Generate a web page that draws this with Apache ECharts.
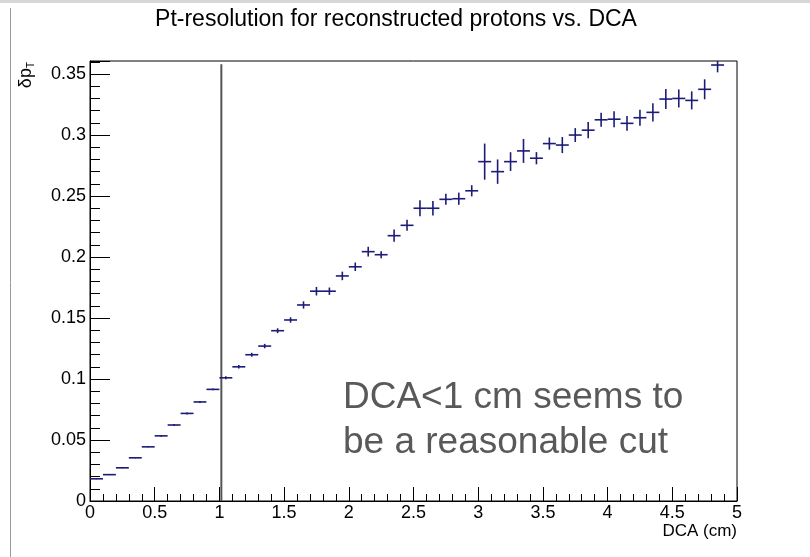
<!DOCTYPE html>
<html>
<head>
<meta charset="utf-8">
<script src="https://cdn.jsdelivr.net/npm/echarts@6/dist/echarts.min.js"></script>
<style>
  html, body { margin: 0; padding: 0; background: #fff; }
  #chart { width: 810px; height: 557px; }
</style>
</head>
<body>
<div id="chart"></div>
<script>
// Bin centres of the DCA histogram (cm), bin width 0.1 cm
const binCenters = [
  0.05, 0.15, 0.25, 0.35, 0.45, 0.55, 0.65, 0.75, 0.85, 0.95,
  1.05, 1.15, 1.25, 1.35, 1.45, 1.55, 1.65, 1.75, 1.85, 1.95,
  2.05, 2.15, 2.25, 2.35, 2.45, 2.55, 2.65, 2.75, 2.85, 2.95,
  3.05, 3.15, 3.25, 3.35, 3.45, 3.55, 3.65, 3.75, 3.85, 3.95,
  4.05, 4.15, 4.25, 4.35, 4.45, 4.55, 4.65, 4.75, 4.85
];
const binWidth = 0.1;

// Pt resolution per bin
const resolution = [
  0.0182, 0.0216, 0.0272, 0.0354, 0.0444, 0.0534, 0.0623, 0.0718, 0.0812, 0.0915,
  0.1010, 0.1100, 0.1199, 0.1270, 0.1396, 0.1484, 0.1607, 0.1720, 0.1720, 0.1845,
  0.1920, 0.2044, 0.2019, 0.2175, 0.2260, 0.2400, 0.2400, 0.2473, 0.2478, 0.2543,
  0.2782, 0.2700, 0.2782, 0.2870, 0.2810, 0.2930, 0.2918, 0.3000, 0.3040, 0.3125,
  0.3130, 0.3096, 0.3142, 0.3186, 0.3295, 0.3300, 0.3284, 0.3375, 0.3574
];

// Statistical error per bin
const resolutionErr = [
  0.0004, 0.0004, 0.0004, 0.0004, 0.0004, 0.0008, 0.0008, 0.0008, 0.0008, 0.0008,
  0.0012, 0.0014, 0.0016, 0.0018, 0.0020, 0.0022, 0.0030, 0.0035, 0.0030, 0.0035,
  0.0035, 0.0040, 0.0028, 0.0050, 0.0045, 0.0065, 0.0060, 0.0045, 0.0050, 0.0046,
  0.0148, 0.0100, 0.0077, 0.0098, 0.0050, 0.0050, 0.0066, 0.0057, 0.0066, 0.0057,
  0.0066, 0.0060, 0.0066, 0.0074, 0.0082, 0.0074, 0.0074, 0.0082, 0.0060
];

// Proposed DCA cut marker
const cutLineX = [1.015, 1.015];
const cutLineY = [0, 0.358];

// Axis ranges and tick spacing
const xRange = [0, 5];
const yRange = [0, 0.3607];
const xTickStep = 0.5;
const yTickStep = 0.05;

const FONT = "'Liberation Sans', Arial, Helvetica, sans-serif";
const markerColor = '#1c1c78';

const histData = binCenters.map((x, i) => [x, resolution[i], resolutionErr[i]]);
const cutData = cutLineX.map((x, i) => [x, cutLineY[i]]);

const chart = echarts.init(document.getElementById('chart'), null, { renderer: 'canvas' });

chart.setOption({
  backgroundColor: '#ffffff',
  animation: false,
  textStyle: { fontFamily: FONT },
  grid: {
    left: 90, right: 73, top: 61, bottom: 56,
    show: true, borderColor: '#000', borderWidth: 1, backgroundColor: 'transparent'
  },
  xAxis: {
    type: 'value',
    min: xRange[0], max: xRange[1], interval: xTickStep,
    axisLine: { show: true, onZero: false, lineStyle: { color: '#000', width: 1 } },
    axisTick: { show: true, inside: true, length: 14, lineStyle: { color: '#000', width: 1 } },
    minorTick: { show: true, splitNumber: 5, length: 7, lineStyle: { color: '#000', width: 1 } },
    splitLine: { show: false },
    axisLabel: { color: '#000', fontSize: 18, fontFamily: FONT, margin: 3 }
  },
  yAxis: {
    type: 'value',
    min: yRange[0], max: yRange[1], interval: yTickStep,
    axisLine: { show: true, onZero: false, lineStyle: { color: '#000', width: 1 } },
    axisTick: { show: true, inside: true, length: 20, lineStyle: { color: '#000', width: 1 } },
    minorTick: { show: true, splitNumber: 5, length: 10, lineStyle: { color: '#000', width: 1 } },
    splitLine: { show: false },
    axisLabel: { color: '#000', fontSize: 18, fontFamily: FONT, margin: 4, showMaxLabel: false }
  },
  series: [
    {
      type: 'custom',
      name: 'resolution',
      clip: true,
      data: histData,
      renderItem: function (params, api) {
        const x = api.value(0), y = api.value(1), e = api.value(2);
        const left = api.coord([x - binWidth / 2, y]);
        const right = api.coord([x + binWidth / 2, y]);
        const top = api.coord([x, y + e]);
        const bottom = api.coord([x, y - e]);
        const style = { stroke: markerColor, lineWidth: 1.6 };
        return {
          type: 'group',
          children: [
            { type: 'line', shape: { x1: left[0], y1: left[1], x2: right[0], y2: right[1] }, style: style },
            { type: 'line', shape: { x1: top[0], y1: top[1], x2: bottom[0], y2: bottom[1] }, style: style }
          ]
        };
      }
    },
    {
      type: 'line',
      name: 'cut',
      data: cutData,
      symbol: 'none',
      lineStyle: { color: '#555555', width: 2 },
      z: 1
    }
  ],
  graphic: [
    // frame around the canvas
    { type: 'rect', shape: { x: 0, y: 0, width: 810, height: 3 }, style: { fill: '#d6d6d6' }, silent: true },
    { type: 'line', shape: { x1: 10.5, y1: 8, x2: 10.5, y2: 557 }, style: { stroke: '#9a9a9a', lineWidth: 1 }, silent: true },
    {
      type: 'text', x: 396, y: 20,
      style: {
        text: 'Pt-resolution for reconstructed protons vs. DCA',
        font: '23px ' + FONT, fill: '#000', align: 'center', verticalAlign: 'middle'
      }
    },
    {
      type: 'text', x: 737, y: 531,
      style: { text: 'DCA (cm)', font: '17px ' + FONT, fill: '#000', align: 'right', verticalAlign: 'middle' }
    },
    {
      type: 'text', x: 26, y: 62, rotation: Math.PI / 2,
      style: {
        text: '{m|δp}{s|T}',
        align: 'right', verticalAlign: 'middle',
        rich: {
          m: { font: '18px ' + FONT, fill: '#000', verticalAlign: 'middle' },
          s: { font: '10px ' + FONT, fill: '#000', padding: [10, 0, 0, 0], verticalAlign: 'bottom' }
        }
      }
    },
    {
      type: 'text', x: 343, y: 420,
      style: {
        text: 'DCA<1 cm seems to\nbe a reasonable cut',
        font: '37px ' + FONT, fill: '#595959', lineHeight: 45,
        align: 'left', verticalAlign: 'middle'
      }
    }
  ]
});
</script>
</body>
</html>
